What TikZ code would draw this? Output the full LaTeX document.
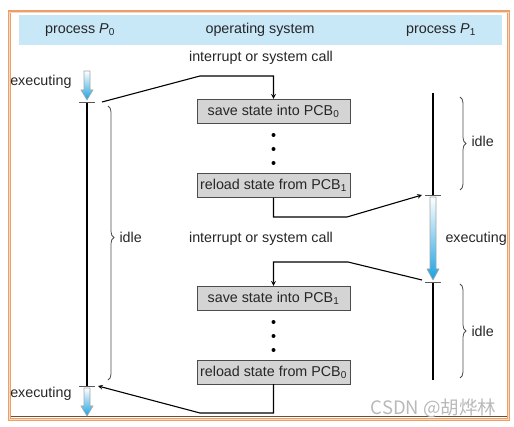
\documentclass[tikz,border=0pt]{standalone}
\usepackage{fontspec}
\setmainfont{Liberation Sans}
\newfontfamily\cjkfont{Noto Sans CJK SC}
\usetikzlibrary{decorations.pathreplacing}

\definecolor{headblue}{RGB}{200,231,247}
\definecolor{frameorange}{RGB}{236,160,105}
\definecolor{boxgray}{RGB}{212,212,212}
\definecolor{execblue}{RGB}{25,162,226}

\tikzset{
	statebox/.style={draw=black!70, fill=boxgray, minimum width=153pt, minimum height=24pt, inner sep=0pt},
	execarrow/.style={draw=gray!70, top color=white, bottom color=execblue, line width=0.6pt},
	timeline/.style={line width=2.4pt},
	ctxarrow/.style={line width=1.1pt, -stealth},
	marktick/.style={gray!70!black, line width=0.8pt},
	idlebrace/.style={decorate, decoration={brace, amplitude=6pt, aspect=#1}, gray!60!black, line width=0.8pt},
	idlebrace/.default=0.5
}

\begin{document}
\begin{tikzpicture}[x=1pt, y=1pt, font=\fontsize{14.3}{17}\selectfont, text=black!85]
		\useasboundingbox (0,0) rectangle (514,-427);

		% frame and title band
		\fill[headblue] (19,-15) rectangle (502,-45);
		\draw[frameorange, line width=3pt] (9,-12) rectangle (508,-419);
		\draw[frameorange!40, line width=0.8pt] (9,-12) rectangle (508,-419);
		\draw[brown!60!black, line width=1pt] (10.5,-416.5) -- (506.5,-416.5);

		\node (h0) at (80,-30) {process \textit{P}\textsubscript{0}};
		\node (hos) at (260,-30) {operating system};
		\node (h1) at (441,-30) {process \textit{P}\textsubscript{1}};

		\node (int0) at (261,-58) {interrupt or system call};
		\node (int1) at (261,-239) {interrupt or system call};

		% operating system
		\node[statebox] (save0) at (273.5,-111) {save state into PCB\textsubscript{0}};
		\node[statebox] (reload1) at (273.5,-185.5) {reload state from PCB\textsubscript{1}};
		\node[statebox] (save1) at (273.5,-298) {save state into PCB\textsubscript{1}};
		\node[statebox] (reload0) at (273.5,-372) {reload state from PCB\textsubscript{0}};

		\foreach \y in {135,149,163,322,336,350}
			\fill (273.5,-\y) circle (2);

		% process P0
		\coordinate (p0out) at (102,-102);
		\coordinate (p0in) at (98,-386);
		\draw[timeline] (87,-102) -- (87,-386);
		\path[execarrow] (84,-71) -- (90,-71) -- (90,-90) -- (93,-90) -- (87,-100) -- (81,-90) -- (84,-90) -- cycle;
		\path[execarrow] (84,-388) -- (90,-388) -- (90,-406) -- (93,-406) -- (87,-416) -- (81,-406) -- (84,-406) -- cycle;
		\draw[marktick] (79,-102) -- (95,-102);
		\draw[marktick] (79,-386) -- (95,-386);
		\node[anchor=east] (ex0a) at (75,-82) {executing};
		\node[anchor=east] (ex0b) at (75,-394) {executing};
		\draw[idlebrace=0.48] (108,-106) -- (108,-380);
		\node[anchor=west] (idle0) at (116,-237) {idle};

		% process P1
		\coordinate (p1in) at (422,-195);
		\coordinate (p1out) at (422,-280);
		\draw[timeline] (433,-93) -- (433,-195);
		\draw[timeline] (433,-282) -- (433,-380);
		\path[execarrow] (430,-197) -- (436,-197) -- (436,-269) -- (439,-269) -- (433,-280) -- (427,-269) -- (430,-269) -- cycle;
		\draw[marktick] (425,-195) -- (441,-195);
		\draw[marktick] (425,-282) -- (441,-282);
		\node[anchor=west] (ex1) at (442,-239) {executing};
		\draw[idlebrace] (460,-97) -- (460,-190);
		\draw[idlebrace] (460,-284) -- (460,-378);
		\node[anchor=west] (idle1a) at (468,-141) {idle};
		\node[anchor=west] (idle1b) at (468,-331) {idle};

		% context switches
		\draw[ctxarrow] (p0out) -- (200,-76) -| (save0.north);
		\draw[ctxarrow] (reload1.south) |- (347,-217) -- (p1in);
		\draw[ctxarrow] (p1out) -- (348,-262) -| (save1.north);
		\draw[ctxarrow] (reload0.south) |- (200,-413) -- (p0in);

		\node[anchor=east, text=gray!55, font=\cjkfont\fontsize{18.5}{20}\selectfont] (wm) at (500,-408) {CSDN @胡烨林};
	\end{tikzpicture}
\end{document}
